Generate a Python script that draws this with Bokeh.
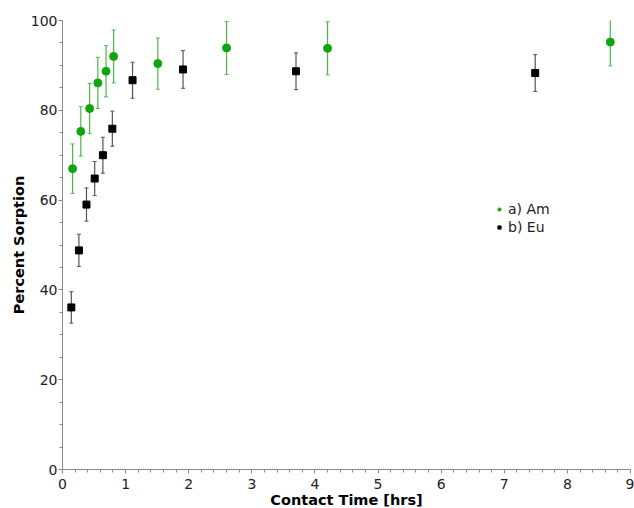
from bokeh.plotting import figure
from bokeh.models import (ColumnDataSource, Range1d, SingleIntervalTicker, Whisker,
                          TeeHead, Legend, LegendItem)
from bokeh.embed import file_html
from bokeh.resources import INLINE

# Am (green) data
am_t = [0.16, 0.29, 0.43, 0.56, 0.69, 0.81, 1.51, 2.60, 4.20, 8.68]
am_y = [67.0, 75.3, 80.4, 86.1, 88.7, 92.0, 90.4, 93.9, 93.8, 95.2]
am_err = [5.5, 5.5, 5.6, 5.7, 5.7, 5.9, 5.7, 5.9, 5.9, 5.3]

# Eu (black) data
eu_t = [0.14, 0.26, 0.38, 0.51, 0.64, 0.79, 1.11, 1.91, 3.70, 7.49]
eu_y = [36.1, 48.8, 59.0, 64.8, 70.0, 75.9, 86.7, 89.1, 88.7, 88.3]
eu_err = [3.5, 3.6, 3.7, 3.8, 4.0, 3.9, 4.0, 4.2, 4.1, 4.1]

labels = ["a) Am", "b) Eu"]
x_label = "Contact Time [hrs]"
y_label = "Percent Sorption"

FONT = "DejaVu Sans"

am_src = ColumnDataSource(dict(x=am_t, y=am_y,
                               lo=[v - e for v, e in zip(am_y, am_err)],
                               hi=[v + e for v, e in zip(am_y, am_err)]))
eu_src = ColumnDataSource(dict(x=eu_t, y=eu_y,
                               lo=[v - e for v, e in zip(eu_y, eu_err)],
                               hi=[v + e for v, e in zip(eu_y, eu_err)]))

p = figure(frame_width=568, frame_height=449, output_backend="svg", toolbar_location=None,
           x_range=Range1d(0, 9), y_range=Range1d(0, 100),
           min_border_left=62, min_border_top=20, min_border_right=4, min_border_bottom=38)
p.outline_line_color = None
p.xgrid.visible = False
p.ygrid.visible = False
p.background_fill_color = "white"

# error bars
for src, col in ((eu_src, "#555555"), (am_src, "#4cb84c")):
    w = Whisker(source=src, base="x", lower="lo", upper="hi", line_color=col, line_width=1.2,
                upper_head=TeeHead(size=4, line_color=col, line_width=1),
                lower_head=TeeHead(size=4, line_color=col, line_width=1))
    p.add_layout(w)

r_am = p.scatter("x", "y", source=am_src, marker="circle", size=8,
                 fill_color="#0fa50f", line_color="#0fa50f")
r_eu = p.scatter("x", "y", source=eu_src, marker="square", size=7,
                 fill_color="black", line_color="black")

# axes
p.xaxis.ticker = SingleIntervalTicker(interval=1, num_minor_ticks=5)
p.yaxis.ticker = SingleIntervalTicker(interval=20, num_minor_ticks=4)
for ax in (p.xaxis[0], p.yaxis[0]):
    ax.axis_line_color = "#8a8a8a"
    ax.major_tick_line_color = "#8a8a8a"
    ax.minor_tick_line_color = "#8a8a8a"
    ax.major_tick_out = 4
    ax.major_tick_in = 0
    ax.minor_tick_out = 3
    ax.minor_tick_in = 0
    ax.major_label_text_font = FONT
    ax.major_label_text_font_size = "14px"
    ax.major_label_text_color = "#222222"
    ax.axis_label_text_font = FONT
    ax.axis_label_text_font_size = "14.5px"
    ax.axis_label_text_font_style = "bold"
    ax.axis_label_text_color = "black"
p.xaxis.axis_label = x_label
p.yaxis.axis_label = y_label
p.xaxis.major_label_standoff = 5
p.xaxis.axis_label_standoff = 0
p.yaxis.major_label_standoff = 1
p.yaxis.axis_label_standoff = 1

legend = Legend(items=[LegendItem(label=labels[0], renderers=[r_am]),
                       LegendItem(label=labels[1], renderers=[r_eu])],
                location=(433, 233), border_line_color=None, background_fill_alpha=0,
                padding=0, margin=0, spacing=0, glyph_width=8, glyph_height=18,
                label_height=18, label_standoff=5,
                label_text_font=FONT, label_text_font_size="14px", label_text_color="#222222")
p.add_layout(legend)

open("out.html", "w").write(file_html(p, INLINE))
